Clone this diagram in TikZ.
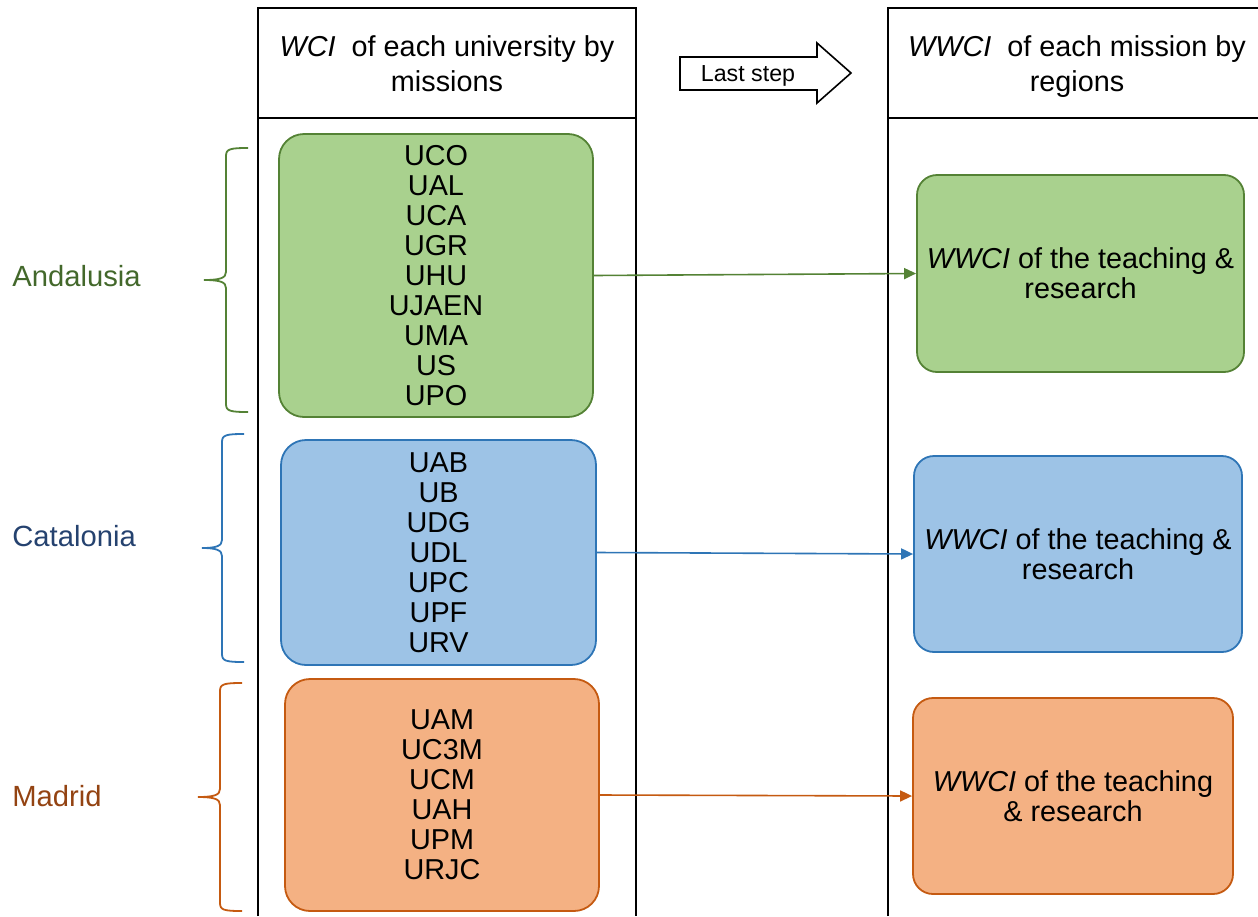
\documentclass[tikz,border=0pt]{standalone}
\usepackage{fontspec}
\setmainfont{Liberation Sans}
\usetikzlibrary{arrows.meta}

\definecolor{andfill}{HTML}{A9D18E}
\definecolor{andline}{HTML}{548235}
\definecolor{andtext}{HTML}{43682B}
\definecolor{catfill}{HTML}{9DC3E6}
\definecolor{catline}{HTML}{2E75B6}
\definecolor{cattext}{HTML}{25426F}
\definecolor{madfill}{HTML}{F4B183}
\definecolor{madline}{HTML}{C55A11}
\definecolor{madtext}{HTML}{934312}

\tikzset{
  unibox/.style={rounded corners=12.5pt,line width=0.9pt,align=center,inner sep=0pt,
    font=\fontsize{14.4}{15}\selectfont},
  wwcibox/.style={rounded corners=10pt,line width=0.9pt,align=center,inner sep=0pt,
    font=\fontsize{14.4}{15}\selectfont},
  regionlabel/.style={anchor=west,inner sep=0pt,font=\fontsize{14.6}{16}\selectfont},
  headtext/.style={align=center,inner sep=0pt,font=\fontsize{14.4}{17.5}\selectfont},
  link/.style={line width=0.8pt,-{Triangle[length=6pt,width=5.5pt]}},
  bracket/.style={line width=0.9pt}
}

\begin{document}
\begin{tikzpicture}[x=0.5pt,y=-0.5pt]
\useasboundingbox (0,0) rectangle (1258,916);

\draw[line width=1.2pt]
(258,916) -- (258,8) -- (636,8) -- (636,916)
(258,118) -- (636,118)
(888,916) -- (888,8) -- (1258,8)
(888,118) -- (1258,118);

\node[headtext] (headL) at (447,63.5) {\textit{WCI}\ \ of each university by\\missions};
\node[headtext] (headR) at (1077,66.5) {\textit{WWCI}\ \ of each mission by\\regions};

\draw[line width=0.8pt] (680,57) -- (817,57) -- (817,43) -- (851,73) -- (817,103) -- (817,90) -- (680,90) -- cycle;
\node[anchor=base,inner sep=0pt,font=\fontsize{11.6}{13}\selectfont] (laststep) at (748,81) {Last step};

\node[unibox,draw=andline,fill=andfill,minimum width=157pt,minimum height=141.5pt] (unisAnd) at (436,275.5)
  {UCO\\UAL\\UCA\\UGR\\UHU\\UJAEN\\UMA\\US\\UPO};
\node[unibox,draw=catline,fill=catfill,minimum width=157.5pt,minimum height=112.5pt] (unisCat) at (438.5,552.5)
  {UAB\\UB\\UDG\\UDL\\UPC\\UPF\\URV};
\node[unibox,draw=madline,fill=madfill,minimum width=157pt,minimum height=116pt] (unisMad) at (442,795)
  {UAM\\UC3M\\UCM\\UAH\\UPM\\URJC};

\node[wwcibox,draw=andline,fill=andfill,minimum width=163.5pt,minimum height=98.5pt] (wwciAnd) at (1080.5,273.5)
  {\textit{WWCI} of the teaching \&\\research};
\node[wwcibox,draw=catline,fill=catfill,minimum width=164pt,minimum height=98pt] (wwciCat) at (1078,554)
  {\textit{WWCI} of the teaching \&\\research};
\node[wwcibox,draw=madline,fill=madfill,minimum width=160pt,minimum height=98pt] (wwciMad) at (1073,796)
  {\textit{WWCI} of the teaching\\\& research};

\draw[link,andline] (unisAnd.east) -- (wwciAnd.west);
\draw[link,catline] (unisCat.east) -- (wwciCat.west);
\draw[link,madline] (unisMad.east) -- (wwciMad.west);

\node[regionlabel,andtext] (andalusia) at (12,276) {Andalusia};
\node[regionlabel,cattext] (catalonia) at (12,536) {Catalonia};
\node[regionlabel,madtext] (madrid) at (12,796) {Madrid};

\draw[bracket,andline] (248,148) .. controls (230,148) and (226,149) .. (226,156) -- (226,272)
  .. controls (226,278) and (220,280) .. (204,280) .. controls (220,280) and (226,282) .. (226,288)
  -- (226,404) .. controls (226,411) and (230,412) .. (248,412);
\draw[bracket,catline] (244,434) .. controls (226,434) and (222,435) .. (222,442) -- (222,540)
  .. controls (222,546) and (216,548) .. (202,548) .. controls (216,548) and (222,550) .. (222,556)
  -- (222,654) .. controls (222,661) and (226,662) .. (244,662);
\draw[bracket,madline] (242,683) .. controls (224,683) and (220,684) .. (220,691) -- (220,789)
  .. controls (220,795) and (214,797) .. (198,797) .. controls (214,797) and (220,799) .. (220,805)
  -- (220,903) .. controls (220,910) and (224,911) .. (242,911);
\end{tikzpicture}
\end{document}
